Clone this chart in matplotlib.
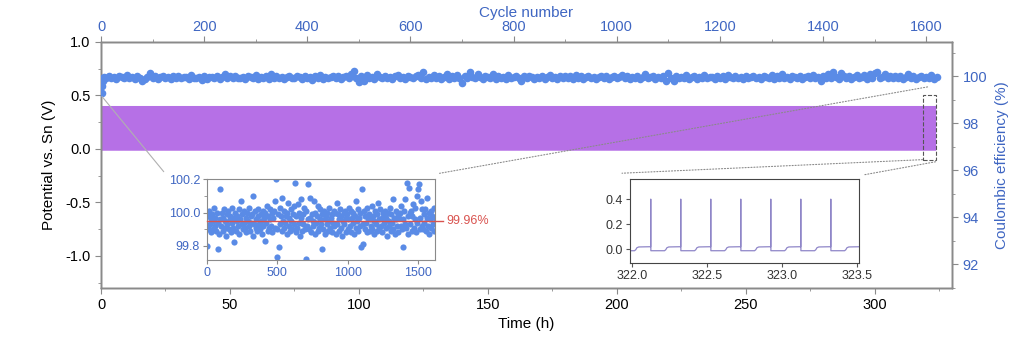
import numpy as np
import matplotlib
matplotlib.use("Agg")
import matplotlib.pyplot as plt
from matplotlib.patches import ConnectionPatch, Rectangle
from matplotlib.ticker import MultipleLocator, FormatStrFormatter

plt.rcParams['font.family'] = ['Liberation Sans', 'DejaVu Sans']

# ---- potential trace: one cycle, repeated every cycle
period_h = 0.2
first_spike_h = 0.125
n_cycles = 1620
cycle_phase = [0.0, 0.004, 0.46, 0.50, 0.54, 0.60, 0.996]   # fraction of a period
cycle_volt = [0.40, -0.012, -0.012, -0.004, 0.012, 0.018, 0.020]

# ---- coulombic efficiency
early_cycles = [1, 2, 3, 4]
early_ce = [99.30, 99.60, 99.80, 99.90]
ce_base = 99.95        # red line in the inset
ce_label = '99.96%'
ce_step = 5            # one value read every 5 cycles, starting at cycle 5
# deviation from ce_base in 0.01 %
ce_dev = [
    3, -4, 6, -2, 1, -7, 4, 0, -5, 8, -3, 2, -6, 5, -1, -17, -8, 1,
    19, -3, 5, -6, 2, 7, -4, 0, -9, 4, -2, 6, -5, 1, 3, -7, 8, -1,
    -4, 2, -13, 5, -6, 3, 0, -3, 7, -8, 1, 12, -2, 4, -5, 6, -1, -4,
    2, -7, 5, 0, -3, 8, -6, 3, -1, 4, -9, 15, -2, 6, -4, 1, -6, 3,
    7, -2, -5, 4, 0, -8, 6, -3, 2, -12, 5, -1, 9, -6, 3, -4, 1, 7,
    -3, 5, -7, 2, 6, -4, 12, 25, -5, -22, 4, -16, 8, -2, 3, -6, 14, 0,
    -4, 6, -1, 3, -8, 5, 11, -3, 2, -6, 7, 0, -5, 4, 9, -2, 23, -7,
    3, -4, 10, -1, 5, -9, 2, 13, -6, 4, -2, 8, -5, -23, 6, -3, 22, 1,
    -5, 14, 2, -7, 4, 0, -3, 12, -8, 5, -1, 3, -6, 9, -4, 1, 7, -2,
    -17, 4, -5, 6, 1, -8, 3, -2, 5, -6, 0, 8, -4, 2, -7, 4, -1, 6,
    -3, 5, -8, 11, -2, 4, -6, 1, 7, -4, 3, -9, 0, 5, -2, 6, -7, 2,
    4, -5, 1, 8, -3, 6, -7, 2, -1, 5, -8, 3, 12, -4, 0, 7, -6, 2,
    -3, 5, -16, 19, -2, -14, 6, -5, 3, -1, 8, -7, 2, 4, -6, 1, -3, 9,
    -5, 3, 0, -8, 6, -2, 4, -6, 11, 1, -4, 7, -3, 2, -7, 5, -1, 3,
    6, -4, 2, -9, 5, 0, -3, 8, -6, 4, -1, 13, -5, 2, -8, 6, 1, -3,
    4, -7, 2, 5, -3, 9, -5, 1, -16, 6, -2, 13, -4, 23, 3, -8, 20, 5,
    -2, 6, -6, 3, 10, -4, 1, 8, -7, 15, -1, 19, 22, -5, 2, 12, -3, 7,
    -5, 4, -1, 7, -6, 2, 14, -3, 5, -8, 1, 6, -4, 3, -2, 8, -6, 2,
]

purple = '#b670e6'
inset_line = '#8f86c8'
blue = '#5a8be6'
blue_txt = '#3f66c2'
red = '#d9534f'
spine_c = '#8a8a8a'

# build series
k = np.arange(n_cycles)
t = (first_spike_h - period_h) + (k[:, None] + np.array(cycle_phase)[None, :]) * period_h
v = np.tile(cycle_volt, (n_cycles, 1))
t = t.ravel()
v = v.ravel()

cyc = np.concatenate([early_cycles, ce_step * np.arange(1, len(ce_dev) + 1)])
ce = np.concatenate([early_ce, ce_base + np.array(ce_dev) / 100.0])

fig = plt.figure(figsize=(10.10, 3.37), dpi=100)
ax = fig.add_axes([0.1, 0.1454, 0.8426, 0.73])
ax.plot(t, v, color=purple, lw=0.4)
ax.set_xlim(0, 330)
ax.set_ylim(-1.3, 1.0)
ax.xaxis.set_major_locator(MultipleLocator(50))
ax.xaxis.set_minor_locator(MultipleLocator(25))
ax.yaxis.set_major_locator(MultipleLocator(0.5))
ax.yaxis.set_minor_locator(MultipleLocator(0.25))
ax.yaxis.set_major_formatter(FormatStrFormatter('%.1f'))
ax.set_xlabel('Time (h)', fontsize=11, labelpad=3)
ax.set_ylabel('Potential vs. Sn (V)', fontsize=11, labelpad=7)
ax.tick_params(labelsize=10.5, length=4, color=spine_c)
ax.tick_params(which='minor', length=2.5, color=spine_c)

ax2 = ax.twinx()
ax2.set_ylim(91, 101.45)
ax2.yaxis.set_major_locator(MultipleLocator(2))
ax2.yaxis.set_minor_locator(MultipleLocator(1))
ax2.set_ylabel('Coulombic efficiency (%)', fontsize=11, color=blue_txt, labelpad=6)
ax2.tick_params(labelsize=10.5, labelcolor=blue_txt, length=4, color=spine_c)
ax2.tick_params(which='minor', length=2.5, color=spine_c)

ax3 = ax2.twiny()
ax3.set_xlim(0, 1650)
ax3.xaxis.set_major_locator(MultipleLocator(200))
ax3.xaxis.set_minor_locator(MultipleLocator(100))
ax3.set_xlabel('Cycle number', fontsize=11, color=blue_txt, labelpad=2)
ax3.tick_params(labelsize=10.5, labelcolor=blue_txt, length=4, color=spine_c, pad=2)
ax3.tick_params(which='minor', length=2.5, color=spine_c)
ax3.scatter(cyc, ce, s=30, color=blue, lw=0, zorder=3)

for a in (ax, ax2, ax3):
    for s in a.spines.values():
        s.set_color(spine_c)
        s.set_linewidth(1.0)

# dashed box around the last cycles
ax.add_patch(Rectangle((318.6, -0.10), 5.0, 0.605, fill=False, ls='--',
                       ec='#555555', lw=0.8, zorder=4))

# inset 1: CE zoom
ins1 = fig.add_axes([0.205, 0.2285, 0.2257, 0.2404])
ins1.scatter(cyc, ce, s=20, color=blue, lw=0)
ins1.set_xlim(0, 1620)
ins1.set_ylim(99.714, 100.203)
ins1.xaxis.set_major_locator(MultipleLocator(500))
ins1.yaxis.set_major_locator(MultipleLocator(0.2))
ins1.yaxis.set_minor_locator(MultipleLocator(0.1))
ins1.yaxis.set_major_formatter(FormatStrFormatter('%.1f'))
ins1.tick_params(labelsize=9, labelcolor=blue_txt, length=3, color=spine_c, pad=2)
ins1.tick_params(which='minor', length=2, color=spine_c)
ins1.axhline(ce_base, xmin=0, xmax=1.035, color=red, lw=1, clip_on=False, zorder=5)
ins1.text(1.05, (ce_base - 99.714) / (100.203 - 99.714), ce_label, color=red,
          fontsize=9, va='center', ha='left', transform=ins1.transAxes)
for s in ins1.spines.values():
    s.set_color(spine_c)

# inset 2: potential zoom
ins2 = fig.add_axes([0.6238, 0.2196, 0.2267, 0.249])
ins2.plot(t, v, color=inset_line, lw=0.9)
ins2.set_xlim(321.987, 323.513)
ins2.set_ylim(-0.11, 0.56)
ins2.xaxis.set_major_locator(MultipleLocator(0.5))
ins2.xaxis.set_major_formatter(FormatStrFormatter('%.1f'))
ins2.yaxis.set_major_locator(MultipleLocator(0.2))
ins2.yaxis.set_major_formatter(FormatStrFormatter('%.1f'))
ins2.tick_params(labelsize=9, labelcolor='#333333', length=3, color='#555555', pad=2)
for s in ins2.spines.values():
    s.set_color('#444444')

# connector lines
con1 = ConnectionPatch(xyA=(0.4, 0.49), coordsA=ax.transData,
                       xyB=(-0.19, 1.09), coordsB=ins1.transAxes,
                       color='#b0b0b0', lw=0.8)
con2 = ConnectionPatch(xyA=(320.5, 0.58), coordsA=ax.transData,
                       xyB=(1.02, 1.07), coordsB=ins1.transAxes,
                       color='#8a8a8a', lw=0.8, ls=':')
con3 = ConnectionPatch(xyA=(318.6, -0.10), coordsA=ax.transData,
                       xyB=(-0.035, 1.07), coordsB=ins2.transAxes,
                       color='#8a8a8a', lw=0.8, ls=':')
con4 = ConnectionPatch(xyA=(323.6, -0.12), coordsA=ax.transData,
                       xyB=(1.02, 1.05), coordsB=ins2.transAxes,
                       color='#8a8a8a', lw=0.8, ls=':')
for c in (con1, con2, con3, con4):
    fig.add_artist(c)

fig.savefig('out.png', dpi=100)
